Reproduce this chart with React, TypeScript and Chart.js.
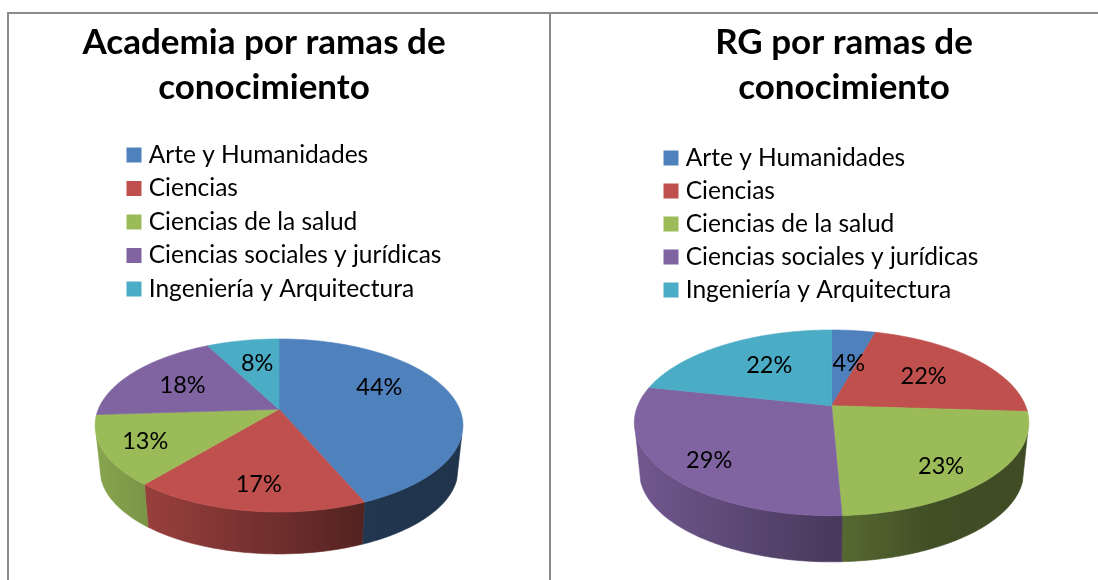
import React, { useEffect, useRef } from "react";
import { Chart, registerables } from "chart.js";

Chart.register(...registerables);

const categories = [
  "Arte y Humanidades",
  "Ciencias",
  "Ciencias de la salud",
  "Ciencias sociales y jurídicas",
  "Ingeniería y Arquitectura",
];
const academiaValues = [43.6, 17.4, 13, 18.4, 7.6];
const rgValues = [4.3, 21.7, 23.3, 29.1, 21.6];
const sliceColors = ["#4F81BD", "#C0504D", "#9BBB59", "#8064A2", "#4BACC6"];
const academiaTitle = ["Academia por ramas de", "conocimiento"];
const rgTitle = ["RG por ramas de", "conocimiento"];

const FONT = "Lato, Carlito, 'Open Sans', sans-serif";
const TITLE_SIZE = 35;
const LEGEND_SIZE = 24.5;
const LABEL_SIZE = 23.5;
const WALL_INSET = 0.3;

const academiaLayout = {
  canvasLeft: 0,
  canvasWidth: 528,
  hubX: 279,
  hubY: 409.3,
  persp: 0.187,
  radX: 180.7,
  radY: 83.5,
  depth: 44.7,
  floorScale: 0.973,
  legendX: 126.5,
  legendY: 155,
  legendStep: 33.5,
  labelNudge: [[-12, -11], [-1, 14], [-23, 6], [0, 1], [3, 1]],
};
const rgLayout = {
  canvasLeft: 590,
  canvasWidth: 508,
  hubX: 831.6,
  hubY: 405.7,
  persp: 0.1847,
  radX: 193.9,
  radY: 89.7,
  depth: 49,
  floorScale: 0.974,
  legendX: 663.5,
  legendY: 158,
  legendStep: 33,
  labelNudge: [[2, 9], [-4, 2], [13, 15], [-18, 14], [10, 1]],
};

function shade(hex: string, f: number) {
  const n = parseInt(hex.slice(1), 16);
  const r = Math.round(((n >> 16) & 255) * f);
  const g = Math.round(((n >> 8) & 255) * f);
  const b = Math.round((n & 255) * f);
  return `rgb(${r},${g},${b})`;
}

function makePie3d(layout: any) {
  const ox = layout.hubX - layout.canvasLeft;
  const pad = layout.legendStep - LEGEND_SIZE;
  const project = (a: number, f: number, floor: boolean) => {
    const u = f * Math.cos(a);
    const v = f * Math.sin(a);
    const w = 1 - layout.persp * v;
    const s = floor ? layout.floorScale : 1;
    return [
      ox + (s * layout.radX * u) / w,
      layout.hubY + (floor ? layout.depth : 0) + (s * layout.radY * v) / w,
    ];
  };
  const rim = (start: number, end: number, floor: boolean) => {
    const pts: number[][] = [];
    const n = Math.max(2, Math.ceil(((end - start) * 180) / Math.PI));
    for (let i = 0; i <= n; i++) {
      pts.push(project(start + ((end - start) * i) / n, 1, floor));
    }
    return pts;
  };
  const trace = (ctx: CanvasRenderingContext2D, pts: number[][]) => {
    ctx.beginPath();
    pts.forEach((p, i) => (i ? ctx.lineTo(p[0], p[1]) : ctx.moveTo(p[0], p[1])));
    ctx.closePath();
  };
  return {
    id: "pie3d",
    afterLayout(chart: any) {
      const legend = chart.legend;
      const w = legend.right - legend.left;
      const h = legend.bottom - legend.top;
      legend.left = layout.legendX - layout.canvasLeft + 5 - pad;
      legend.right = legend.left + w;
      legend.top = layout.legendY - LEGEND_SIZE / 2 - pad;
      legend.bottom = legend.top + h;
    },
    beforeDatasetDraw(chart: any, args: any) {
      const ctx: CanvasRenderingContext2D = chart.ctx;
      const arcs = args.meta.data;
      const left = ox - layout.radX * 1.02;
      const right = ox + layout.radX * 1.02;

      arcs.forEach((arc: any, i: number) => {
        const a0 = Math.max(arc.startAngle, WALL_INSET);
        const a1 = Math.min(arc.endAngle, Math.PI - WALL_INSET);
        if (a1 <= a0) return;
        const color = sliceColors[i];
        const grad = ctx.createLinearGradient(left, 0, right, 0);
        grad.addColorStop(0, shade(color, 0.88));
        grad.addColorStop(0.75, shade(color, 0.42));
        grad.addColorStop(1, shade(color, 0.4));
        trace(ctx, [...rim(a0, a1, false), ...rim(a0, a1, true).reverse()]);
        ctx.fillStyle = grad;
        ctx.strokeStyle = grad;
        ctx.lineWidth = 0.6;
        ctx.fill();
        ctx.stroke();
      });

      arcs.forEach((arc: any, i: number) => {
        trace(ctx, [project(0, 0, false), ...rim(arc.startAngle, arc.endAngle, false)]);
        ctx.fillStyle = sliceColors[i];
        ctx.strokeStyle = sliceColors[i];
        ctx.lineWidth = 0.6;
        ctx.fill();
        ctx.stroke();
      });

      const values = chart.data.datasets[0].data;
      ctx.font = `${LABEL_SIZE}px ${FONT}`;
      ctx.fillStyle = "#000";
      ctx.textAlign = "center";
      ctx.textBaseline = "middle";
      arcs.forEach((arc: any, i: number) => {
        const mid = (arc.startAngle + arc.endAngle) / 2;
        const p = project(mid, 0.65, false);
        ctx.fillText(
          `${Math.round(values[i])}%`,
          p[0] + layout.labelNudge[i][0],
          p[1] + layout.labelNudge[i][1]
        );
      });
      return false;
    },
  };
}

function PiePanel({ values, title, layout }: { values: number[]; title: string[]; layout: any }) {
  const ref = useRef<HTMLCanvasElement>(null);
  useEffect(() => {
    const chart = new Chart(ref.current as HTMLCanvasElement, {
      type: "pie",
      data: {
        labels: categories,
        datasets: [{ data: values, backgroundColor: sliceColors, borderWidth: 0 }],
      },
      plugins: [makePie3d(layout)],
      options: {
        responsive: false,
        animation: false,
        events: [],
        plugins: {
          tooltip: { enabled: false },
          title: {
            display: true,
            text: title,
            color: "#000",
            font: { family: FONT, size: TITLE_SIZE, weight: "bold", lineHeight: 45 / TITLE_SIZE },
            padding: { top: 20, bottom: 0 },
          },
          legend: {
            display: true,
            position: "left",
            align: "start",
            maxWidth: 480,
            labels: {
              color: "#000",
              font: { family: FONT, size: LEGEND_SIZE },
              boxWidth: 5,
              boxHeight: 5,
              padding: layout.legendStep - LEGEND_SIZE,
              generateLabels: () =>
                categories.map((text, i) => ({
                  text,
                  fillStyle: sliceColors[i],
                  strokeStyle: sliceColors[i],
                  lineWidth: 10,
                  hidden: false,
                  index: i,
                })),
            },
          },
        },
      },
    } as any);
    return () => chart.destroy();
  }, []);
  return (
    <canvas
      ref={ref}
      width={layout.canvasWidth}
      height={580}
      style={{ position: "absolute", left: layout.canvasLeft, top: 0, display: "block" }}
    />
  );
}

const rule = (style: React.CSSProperties) => (
  <div style={{ position: "absolute", background: "#8c8c8c", ...style }} />
);

export default function App() {
  useEffect(() => {
    document.body.style.margin = "0";
    document.body.style.background = "#fff";
  }, []);
  return (
    <div style={{ position: "fixed", left: 0, top: 0, width: 1098, height: 580, background: "#fff", overflow: "hidden" }}>
      {rule({ left: 7, top: 12, width: 1091, height: 2 })}
      {rule({ left: 7, top: 12, width: 2, height: 568 })}
      {rule({ left: 549, top: 12, width: 2, height: 568 })}
      <PiePanel values={academiaValues} title={academiaTitle} layout={academiaLayout} />
      <PiePanel values={rgValues} title={rgTitle} layout={rgLayout} />
    </div>
  );
}
